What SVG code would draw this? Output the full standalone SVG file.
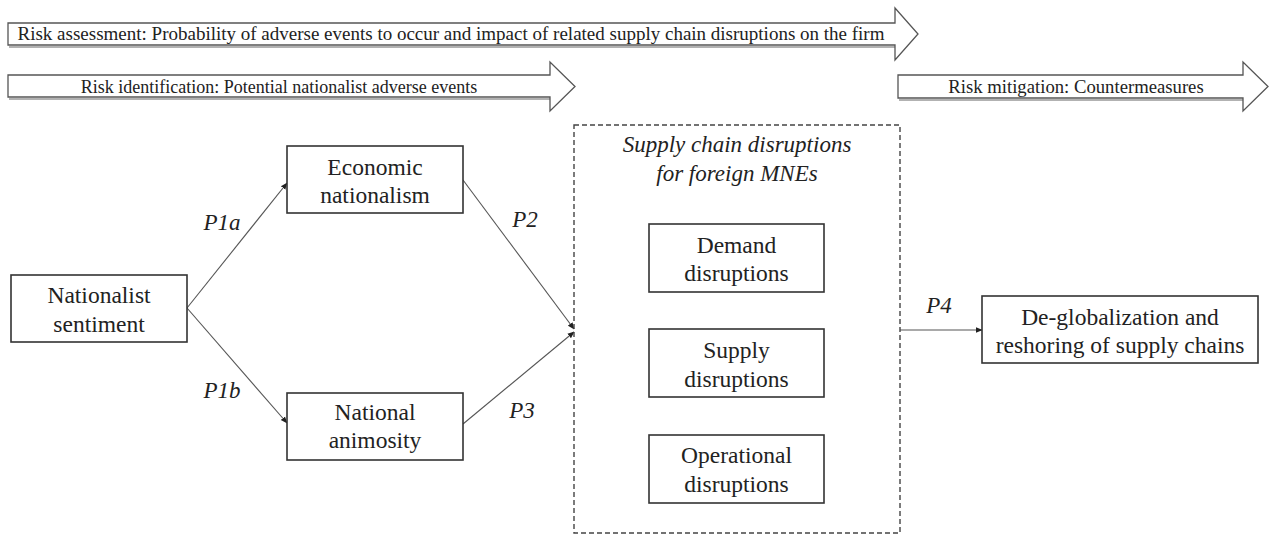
<svg xmlns="http://www.w3.org/2000/svg" width="1275" height="535" viewBox="0 0 1275 535">
<defs>
<style>
.bg{fill:#fff}
.band{fill:#fff;stroke:#555;stroke-width:1.3}
.shadow{fill:none;stroke:#999;stroke-width:1.5}
.bt{font-family:"Liberation Serif","Times New Roman",serif;font-size:18px;fill:#222;text-anchor:middle}
.box{fill:#fff;stroke:#333;stroke-width:1.6}
.nt{font-family:"Liberation Serif","Times New Roman",serif;font-size:23.5px;fill:#222;text-anchor:middle}
.it{font-family:"Liberation Serif","Times New Roman",serif;font-size:23px;font-style:italic;fill:#222;text-anchor:middle}
.dash{fill:none;stroke:#444;stroke-width:1.4;stroke-dasharray:5,3}
.conn{fill:none;stroke:#555;stroke-width:1.1;marker-end:url(#ah)}
</style>
<marker id="ah" viewBox="0 0 10 10" refX="9" refY="5" markerWidth="7" markerHeight="7" markerUnits="userSpaceOnUse" orient="auto">
<path d="M0,1 L10,5 L0,9 Z" fill="#222"/>
</marker>
</defs>
<rect class="bg" x="0" y="0" width="1275" height="535"/>

<g id="phases">
<g id="risk-assessment">
<polygon class="shadow" points="9,47 897,47"/>
<polygon class="band" points="8,23 895,23 895,8 918,34 895,60 895,45 8,45"/>
<text class="bt" x="451" y="40" style="font-size:19px">Risk assessment: Probability of adverse events to occur and impact of related supply chain disruptions on the firm</text>
</g>
<g id="risk-identification">
<polygon class="shadow" points="9,99 551,99"/>
<polygon class="band" points="8,75 550,75 550,62 575,86.5 550,111 550,97 8,97"/>
<text class="bt" x="279" y="93">Risk identification: Potential nationalist adverse events</text>
</g>
<g id="risk-mitigation">
<polygon class="shadow" points="899,100 1244,100"/>
<polygon class="band" points="898,75 1243,75 1243,62 1268,86.5 1243,111 1243,98 898,98"/>
<text class="bt" x="1076" y="93" style="font-size:18.7px">Risk mitigation: Countermeasures</text>
</g>
</g>

<g id="connectors">
<line class="conn" x1="187" y1="308" x2="287" y2="183"/>
<line class="conn" x1="187" y1="308" x2="287" y2="423"/>
<line class="conn" x1="463" y1="180" x2="574" y2="329"/>
<line class="conn" x1="463" y1="424" x2="574" y2="332"/>
<line class="conn" x1="900" y1="330" x2="982" y2="330"/>
<text class="it" x="222" y="230">P1a</text>
<text class="it" x="222" y="398">P1b</text>
<text class="it" x="525" y="227">P2</text>
<text class="it" x="522" y="418">P3</text>
<text class="it" x="939" y="313">P4</text>
</g>

<g id="nationalist-sentiment">
<rect class="box" x="11" y="275" width="176" height="67"/>
<text class="nt" x="99" y="303">Nationalist</text>
<text class="nt" x="99" y="332">sentiment</text>
</g>
<g id="economic-nationalism">
<rect class="box" x="287" y="146" width="176" height="67"/>
<text class="nt" x="375" y="175">Economic</text>
<text class="nt" x="375" y="203">nationalism</text>
</g>
<g id="national-animosity">
<rect class="box" x="287" y="393" width="176" height="67"/>
<text class="nt" x="375" y="420">National</text>
<text class="nt" x="375" y="448">animosity</text>
</g>

<g id="supply-chain-disruptions">
<rect class="dash" x="574" y="125" width="326" height="408"/>
<text class="it" x="737" y="152">Supply chain disruptions</text>
<text class="it" x="737" y="181">for foreign MNEs</text>
</g>
<g id="demand-disruptions">
<rect class="box" x="649" y="224" width="175" height="68"/>
<text class="nt" x="736.5" y="253">Demand</text>
<text class="nt" x="736.5" y="281">disruptions</text>
</g>
<g id="supply-disruptions">
<rect class="box" x="649" y="329" width="175" height="68"/>
<text class="nt" x="736.5" y="358">Supply</text>
<text class="nt" x="736.5" y="387">disruptions</text>
</g>
<g id="operational-disruptions">
<rect class="box" x="649" y="435" width="175" height="68"/>
<text class="nt" x="736.5" y="463">Operational</text>
<text class="nt" x="736.5" y="492">disruptions</text>
</g>
<g id="deglobalization">
<rect class="box" x="982" y="296" width="276" height="67"/>
<text class="nt" x="1120" y="325">De-globalization and</text>
<text class="nt" x="1120" y="353">reshoring of supply chains</text>
</g>
</svg>
